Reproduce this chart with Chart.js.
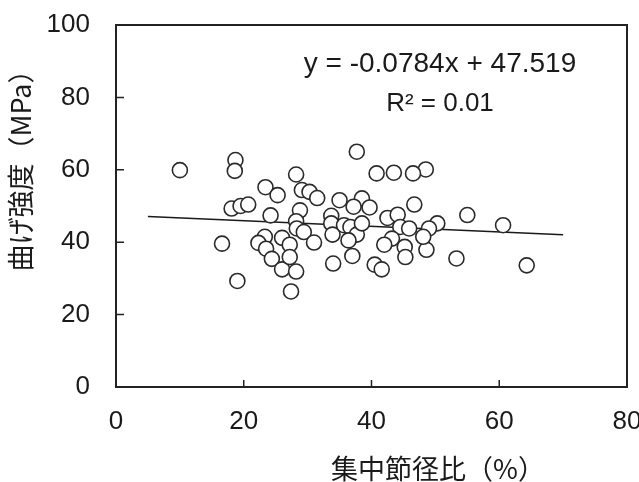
<!DOCTYPE html>
<html>
<head>
<meta charset="utf-8">
<script src="https://cdn.jsdelivr.net/npm/chart.js@4"></script>
<style>
  html, body { margin: 0; padding: 0; background: #fff; }
  #wrap { width: 639px; height: 482px; }
</style>
</head>
<body>
<div id="wrap"><canvas id="knotChart"></canvas></div>
<script>
// 集中節径比 (%) and 曲げ強度 (MPa)
const knotRatio = [10.0, 18.7, 18.6, 23.4, 25.3, 18.1, 19.5, 20.7, 24.2, 16.6, 23.3, 22.3, 23.5, 26.0, 24.4, 26.0, 19.0,
  48.5, 55.0, 60.6, 50.3, 49.0, 48.6, 53.3, 64.3, 48.1, 37.7, 28.2, 40.8, 43.5, 46.5, 29.1, 30.3, 31.5, 35.0, 38.5,
  37.2, 39.7, 46.7, 28.8, 28.2, 28.3, 29.4, 33.7, 33.7, 33.9, 35.7, 36.7, 37.7, 38.5, 36.4, 37.0, 42.5, 44.1, 44.5,
  45.9, 43.2, 42.0, 45.2, 45.3, 40.5, 41.6, 34.0, 31.0, 27.2, 27.2, 28.2, 27.4];
const bendStrength = [59.9, 62.7, 59.7, 55.2, 53.0, 49.3, 50.0, 50.4, 47.4, 39.6, 41.5, 39.8, 38.2, 41.2, 35.4, 32.5, 29.3,
  60.1, 47.5, 44.7, 45.2, 43.8, 37.9, 35.5, 33.6, 41.5, 65.0, 58.7, 59.0, 59.2, 59.0, 54.4, 53.9, 52.2, 51.6, 52.1,
  49.8, 49.6, 50.4, 48.8, 45.8, 43.8, 42.8, 47.3, 45.2, 42.1, 44.7, 44.2, 42.1, 45.2, 40.5, 36.2, 46.7, 47.6, 44.2,
  43.8, 41.0, 39.3, 38.7, 35.9, 33.8, 32.5, 34.1, 39.9, 39.3, 35.9, 31.9, 26.4];

// trendline y = slope * x + intercept, drawn over this x range
const slope = -0.0784;
const intercept = 47.519;
const trendRange = [5, 70];
const rSquared = '0.01';

const xTicks = [0, 20, 40, 60, 80];
const yTicks = [0, 20, 40, 60, 80, 100];

const points = knotRatio.map((x, i) => ({ x: x, y: bendStrength[i] }));
const trendPoints = trendRange.map(x => ({ x: x, y: slope * x + intercept }));

const textColor = '#1a1a1a';
const numFont = "'Liberation Sans', Arial, sans-serif";
const cjkFont = "'Noto Sans CJK JP', sans-serif";

// frame, inward ticks, axis titles and equation text
const decorPlugin = {
  id: 'decor',
  afterDatasetsDraw(chart) {
    const ctx = chart.ctx;
    const area = chart.chartArea;
    const xs = chart.scales.x;
    const ys = chart.scales.y;
    ctx.save();
    ctx.strokeStyle = '#222';
    ctx.lineWidth = 2;
    ctx.strokeRect(area.left, area.top, area.right - area.left, area.bottom - area.top);
    ctx.lineWidth = 1.5;
    ctx.beginPath();
    xTicks.slice(1, -1).forEach(v => {
      const px = xs.getPixelForValue(v);
      ctx.moveTo(px, area.bottom);
      ctx.lineTo(px, area.bottom - 7);
    });
    yTicks.slice(1, -1).forEach(v => {
      const py = ys.getPixelForValue(v);
      ctx.moveTo(area.left, py);
      ctx.lineTo(area.left + 8, py);
    });
    ctx.stroke();

    ctx.fillStyle = textColor;
    ctx.textAlign = 'center';
    ctx.textBaseline = 'middle';
    ctx.font = '28px ' + numFont;
    ctx.fillText('y = ' + slope.toFixed(4) + 'x + ' + intercept.toFixed(3), 440, 64);
    ctx.font = '26px ' + numFont;
    ctx.fillText('R\u00b2 = ' + rSquared, 440, 104);

    ctx.font = '27px ' + cjkFont;
    ctx.fillText('集中節径比（%）', 438, 469);

    ctx.translate(21, 164);
    ctx.rotate(-Math.PI / 2);
    ctx.fillText('曲げ強度（MPa）', 0, 0);
    ctx.restore();
  }
};

document.addEventListener('DOMContentLoaded', function() {
  const ctx = document.getElementById('knotChart');
  new Chart(ctx, {
    type: 'scatter',
    data: {
      datasets: [
        {
          label: 'data',
          data: points,
          pointRadius: 7.5,
          pointBorderWidth: 1.6,
          pointBorderColor: '#2a2a2a',
          pointBackgroundColor: '#ffffff',
          order: 0
        },
        {
          label: 'trend',
          type: 'line',
          data: trendPoints,
          borderColor: '#1a1a1a',
          borderWidth: 1.5,
          pointRadius: 0,
          fill: false,
          order: 1
        }
      ]
    },
    options: {
      responsive: true,
      maintainAspectRatio: false,
      animation: false,
      layout: { padding: { top: 25, right: 12, left: 0, bottom: 0 } },
      scales: {
        x: {
          type: 'linear',
          min: 0,
          max: 80,
          afterBuildTicks: scale => { scale.ticks = xTicks.map(v => ({ value: v })); },
          afterFit: scale => {
            scale.height = 95;
            scale.paddingLeft = 0;
            scale.paddingRight = 0;
          },
          grid: { display: false, drawTicks: false },
          border: { display: false },
          ticks: { color: textColor, font: { size: 26, family: numFont }, padding: 19 }
        },
        y: {
          min: 0,
          max: 100,
          afterBuildTicks: scale => { scale.ticks = yTicks.map(v => ({ value: v })); },
          afterFit: scale => {
            scale.width = 116;
            scale.paddingTop = 0;
            scale.paddingBottom = 0;
          },
          grid: { display: false, drawTicks: false },
          border: { display: false },
          ticks: { color: textColor, font: { size: 26, family: numFont }, padding: 26 }
        }
      },
      plugins: {
        legend: { display: false },
        tooltip: { enabled: false }
      }
    },
    plugins: [decorPlugin]
  });
});
</script>
</body>
</html>
